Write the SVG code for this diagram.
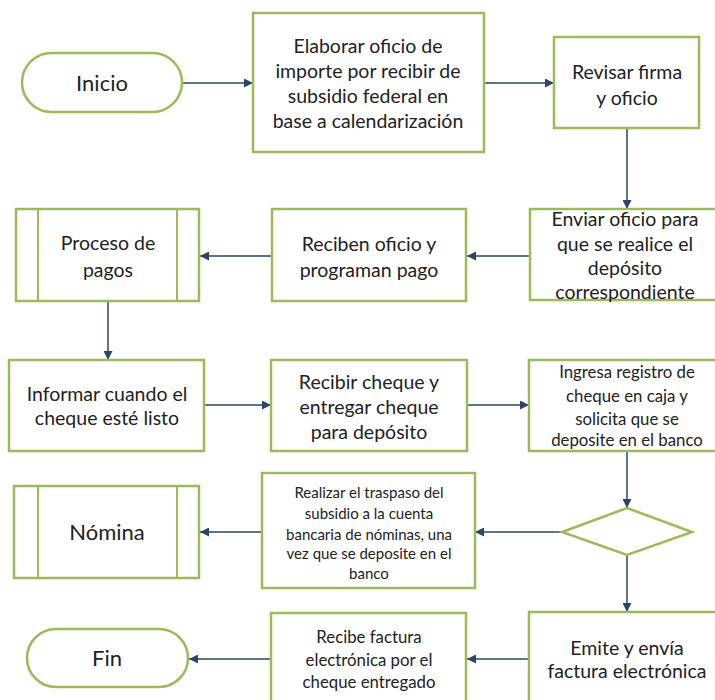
<svg xmlns="http://www.w3.org/2000/svg" width="715" height="700" viewBox="0 0 715 700">
<defs>
<marker id="ah" viewBox="0 0 10 10" refX="10" refY="5" markerWidth="10" markerHeight="9" markerUnits="userSpaceOnUse" orient="auto">
<path d="M0,0 L10,5 L0,10 Z" fill="#2B4468"/>
</marker>
<style>
.n{fill:#fff;stroke:#9BBB59;stroke-width:2.5}
.l{fill:none;stroke:#9BBB59;stroke-width:2}
.c{fill:none;stroke:#2B4468;stroke-width:1.5;marker-end:url(#ah)}
text{font-family:Lato,"Liberation Sans",sans-serif;fill:#222;text-anchor:middle}
.t17{font-size:19.5px}
.t20{font-size:22px}
.t15{font-size:16.8px}
.t13{font-size:15px}
</style>
</defs>
<rect width="715" height="700" fill="#fff"/>
<g id="connectors">
<line class="c" x1="182" y1="83" x2="253" y2="83"/>
<line class="c" x1="484" y1="83" x2="554" y2="83"/>
<line class="c" x1="627" y1="128" x2="627" y2="209"/>
<line class="c" x1="530" y1="256" x2="467" y2="256"/>
<line class="c" x1="272" y1="256" x2="200" y2="256"/>
<line class="c" x1="108" y1="301" x2="108" y2="360"/>
<line class="c" x1="204" y1="405" x2="271" y2="405"/>
<line class="c" x1="467" y1="405" x2="529" y2="405"/>
<line class="c" x1="627" y1="451" x2="627" y2="508"/>
<line class="c" x1="562" y1="532" x2="475" y2="532"/>
<line class="c" x1="262" y1="532" x2="200" y2="532"/>
<line class="c" x1="627" y1="555" x2="627" y2="612"/>
<line class="c" x1="529" y1="659" x2="467" y2="659"/>
<line class="c" x1="271" y1="659" x2="189" y2="659"/>
</g>
<g id="inicio">
<rect class="n" x="22" y="53" width="160" height="59" rx="29.5"/>
<text class="t20" x="102" y="91">Inicio</text>
</g>
<g id="elaborar">
<rect class="n" x="253" y="13" width="231" height="139"/>
<text class="t17" x="368" y="53">Elaborar oficio de</text>
<text class="t17" x="368" y="78">importe por recibir de</text>
<text class="t17" x="368" y="103">subsidio federal en</text>
<text class="t17" x="368" y="128">base a calendarización</text>
</g>
<g id="revisar">
<rect class="n" x="554" y="37" width="145" height="91"/>
<text class="t17" x="627" y="79">Revisar firma</text>
<text class="t17" x="627" y="105">y oficio</text>
</g>
<g id="enviar">
<rect class="n" x="530" y="209" width="188" height="91"/>
<text class="t17" x="625" y="226">Enviar oficio para</text>
<text class="t17" x="625" y="251">que se realice el</text>
<text class="t17" x="625" y="275">depósito</text>
<text class="t17" x="625" y="299">correspondiente</text>
</g>
<g id="reciben">
<rect class="n" x="272" y="209" width="194" height="92"/>
<text class="t17" x="369" y="251">Reciben oficio y</text>
<text class="t17" x="369" y="277">programan pago</text>
</g>
<g id="proceso">
<rect class="n" x="16" y="209" width="183" height="92"/>
<line class="l" x1="38" y1="209" x2="38" y2="301"/>
<line class="l" x1="177" y1="209" x2="177" y2="301"/>
<text class="t17" x="108" y="250">Proceso de</text>
<text class="t17" x="108" y="277">pagos</text>
</g>
<g id="informar">
<rect class="n" x="9" y="360" width="195" height="91"/>
<text class="t17" x="107" y="401">Informar cuando el</text>
<text class="t17" x="107" y="425">cheque esté listo</text>
</g>
<g id="recibir">
<rect class="n" x="271" y="360" width="196" height="91"/>
<text class="t17" x="369" y="389">Recibir cheque y</text>
<text class="t17" x="369" y="414">entregar cheque</text>
<text class="t17" x="369" y="439">para depósito</text>
</g>
<g id="ingresa">
<rect class="n" x="529" y="360" width="189" height="91"/>
<text class="t15" x="627" y="378">Ingresa registro de</text>
<text class="t15" x="627" y="402">cheque en caja y</text>
<text class="t15" x="627" y="425">solicita que se</text>
<text class="t15" x="627" y="446">deposite en el banco</text>
</g>
<g id="decision">
<polygon class="n" points="627,508 692,532 627,555 562,532"/>
</g>
<g id="realizar">
<rect class="n" x="262" y="473" width="213" height="115"/>
<text class="t13" x="369" y="498">Realizar el traspaso del</text>
<text class="t13" x="369" y="519">subsidio a la cuenta</text>
<text class="t13" x="369" y="540">bancaria de nóminas, una</text>
<text class="t13" x="369" y="559">vez que se deposite en el</text>
<text class="t13" x="369" y="579">banco</text>
</g>
<g id="nomina">
<rect class="n" x="14" y="486" width="185" height="92"/>
<line class="l" x1="38" y1="486" x2="38" y2="578"/>
<line class="l" x1="177" y1="486" x2="177" y2="578"/>
<text class="t20" x="107" y="540">Nómina</text>
</g>
<g id="emite">
<rect class="n" x="529" y="612" width="189" height="92"/>
<text class="t17" x="627" y="655">Emite y envía</text>
<text class="t17" x="627" y="678">factura electrónica</text>
</g>
<g id="recibe">
<rect class="n" x="271" y="613" width="195" height="91"/>
<text class="t15" x="369" y="643">Recibe factura</text>
<text class="t15" x="369" y="666">electrónica por el</text>
<text class="t15" x="369" y="688">cheque entregado</text>
</g>
<g id="fin">
<rect class="n" x="27" y="629" width="161" height="58" rx="29"/>
<text class="t20" x="107" y="666">Fin</text>
</g>
</svg>
